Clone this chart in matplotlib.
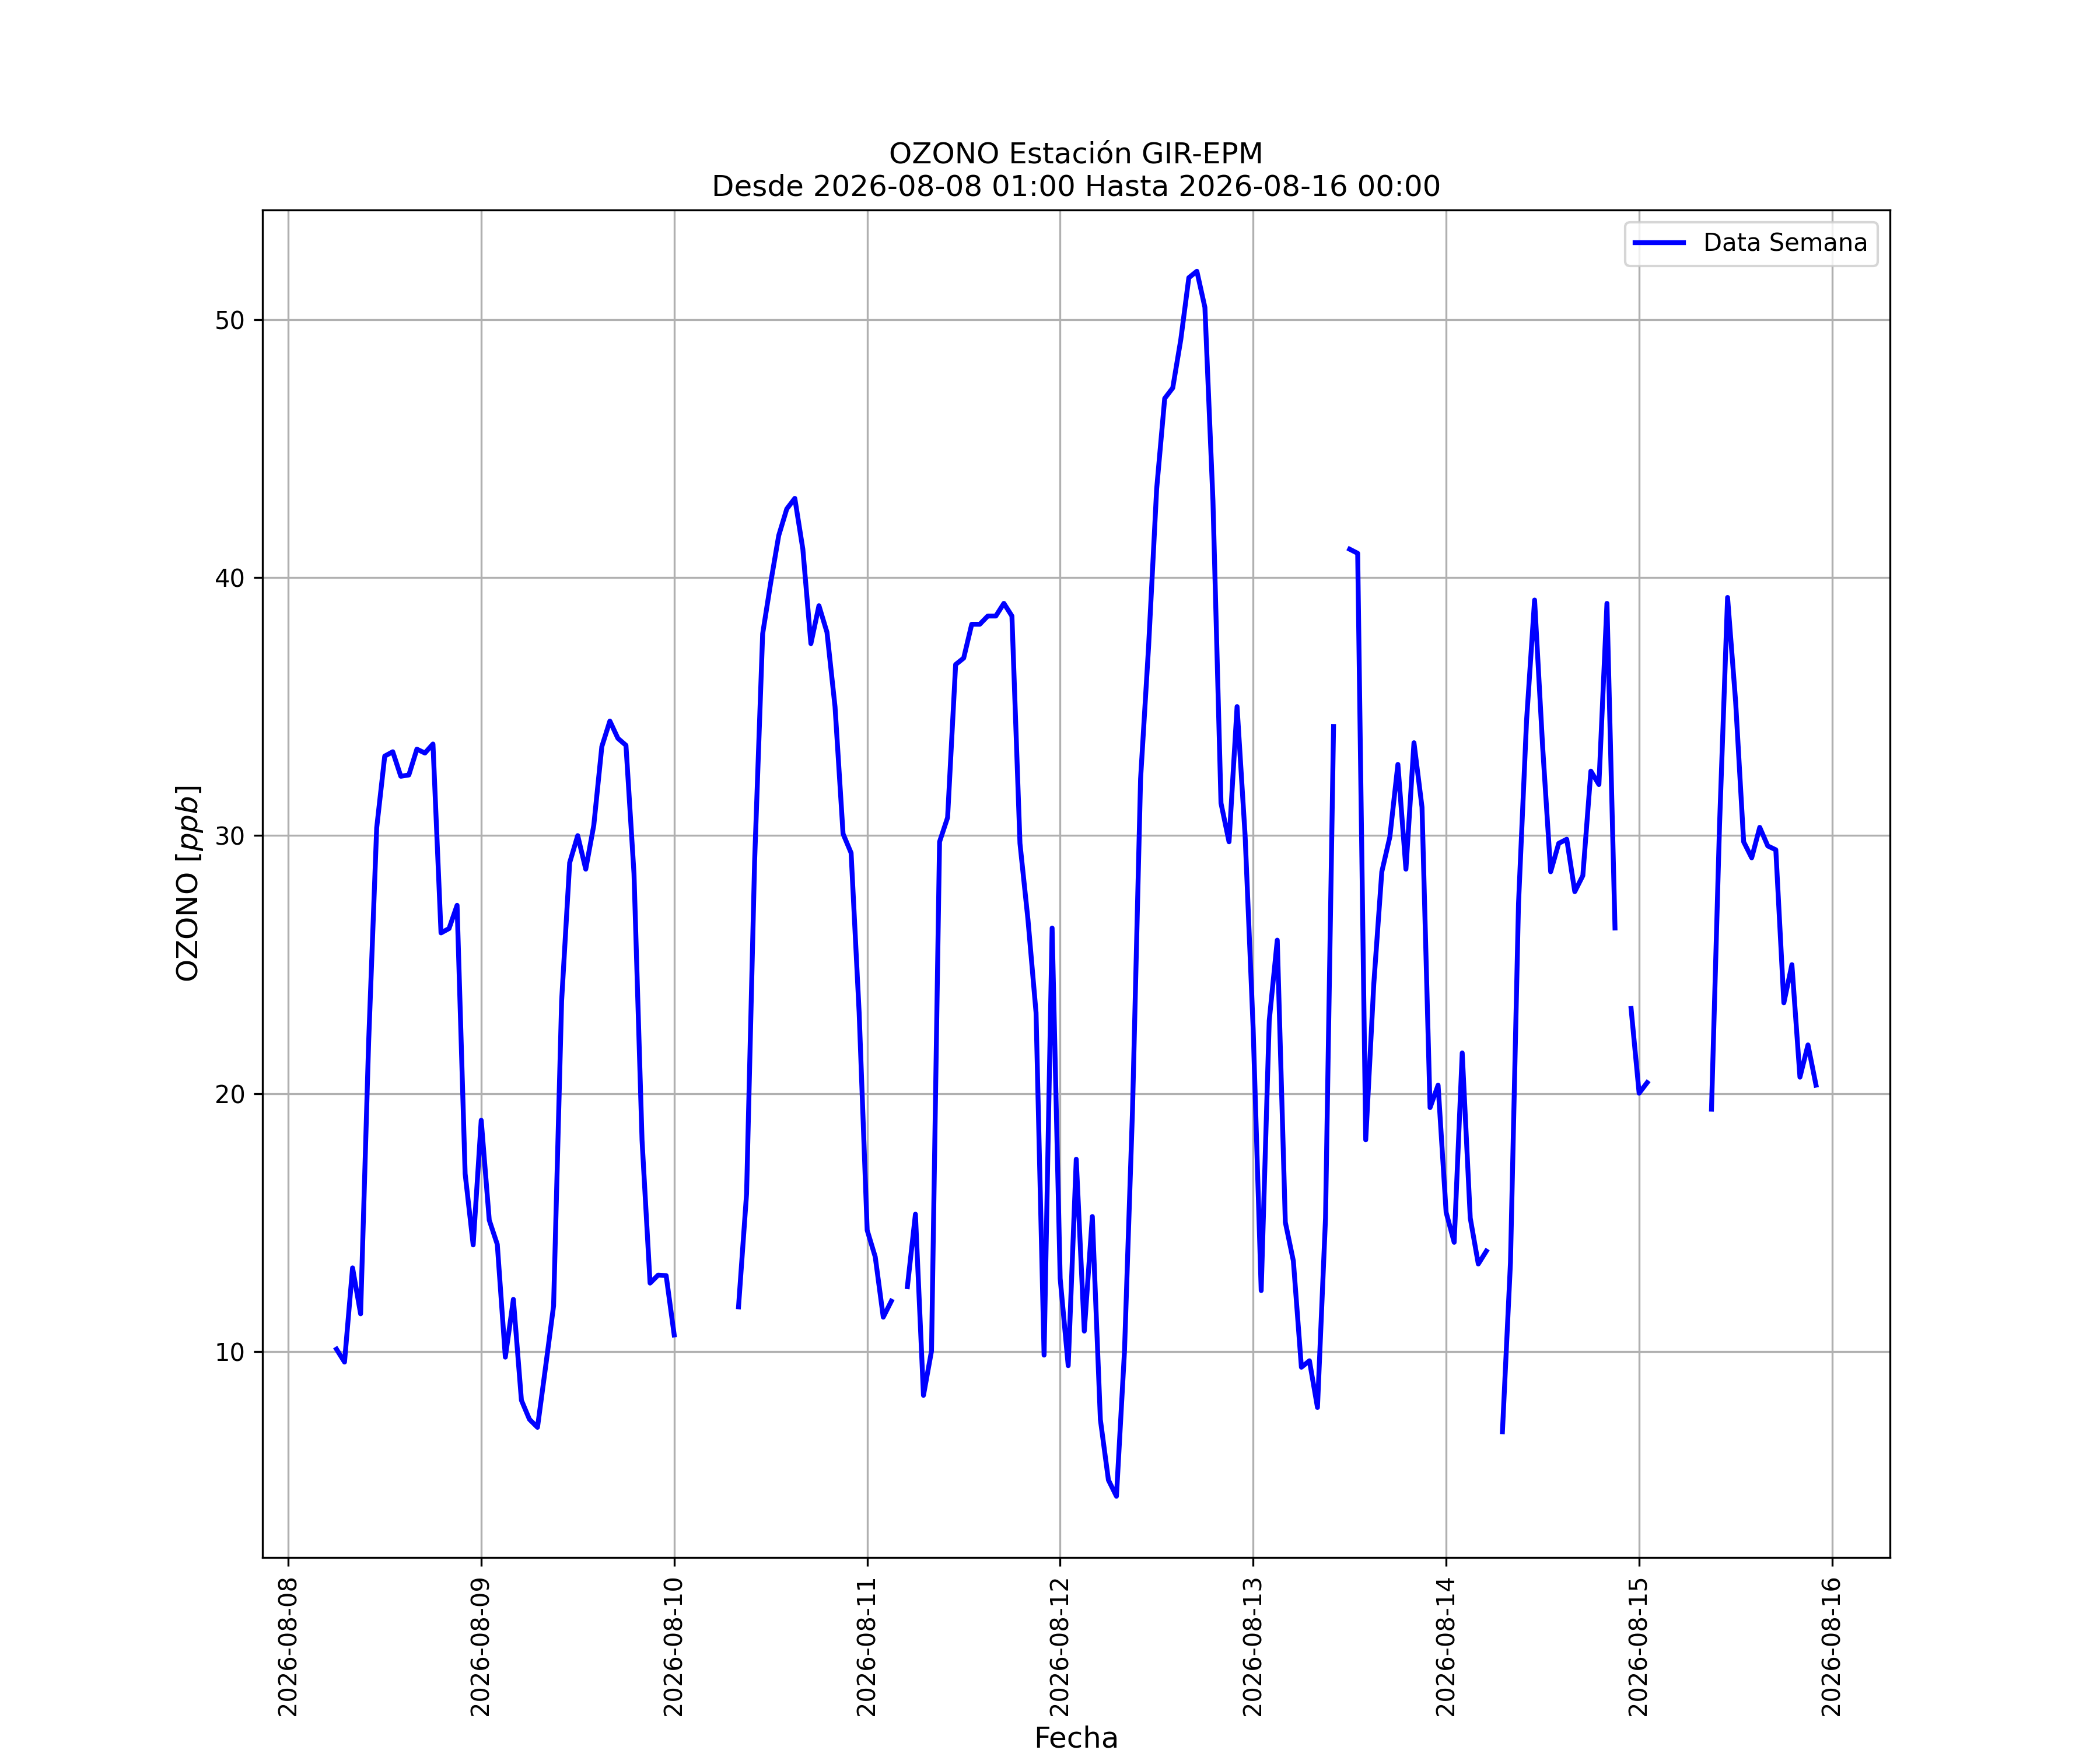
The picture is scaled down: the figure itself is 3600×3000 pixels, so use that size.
import numpy as np
import pandas as pd
import matplotlib
matplotlib.use("Agg")
import matplotlib.pyplot as plt
import matplotlib.dates as mdates

nan = np.nan

# hourly ozone values, 2026-08-08 01:00 .. 2026-08-16 00:00
fechas = pd.date_range("2026-08-08 01:00", "2026-08-16 00:00", freq="h")

dia1 = [nan, nan, nan, nan, nan, 10.1, 9.6, 13.25, 11.47, 22.0, 30.3, 33.08,
        33.25, 32.3, 32.35, 33.35, 33.2, 33.55, 26.23, 26.4, 27.3, 16.9, 14.14, 18.97]
dia2 = [15.1, 14.16, 9.79, 12.03, 8.12, 7.38, 7.07, 9.4, 11.78, 23.6, 28.95, 30.0,
        28.7, 30.4, 33.45, 34.44, 33.77, 33.5, 28.53, 18.2, 12.66, 12.97, 12.95, 10.65]
dia3 = [nan, nan, nan, nan, nan, nan, nan, 11.74, 16.12, 29.0, 37.82, 39.8,
        41.63, 42.66, 43.07, 41.1, 37.44, 38.91, 37.88, 35.0, 30.07, 29.33, 23.14, 14.71]
dia4 = [13.68, 11.34, 11.96, nan, 12.52, 15.33, 8.31, 10.03, 29.76, 30.7, 36.63, 36.88,
        38.19, 38.19, 38.51, 38.51, 39.0, 38.51, 29.7, 26.73, 23.14, 9.87, 26.42, 12.84]
dia5 = [9.46, 17.46, 10.8, 15.24, 7.37, 5.03, 4.4, 10.03, 19.4, 32.2, 37.35, 43.44,
        46.94, 47.35, 49.22, 51.62, 51.87, 50.47, 42.97, 31.26, 29.76, 35.0, 30.0, 22.52]
dia6 = [12.37, 22.83, 25.95, 15.02, 13.52, 9.4, 9.65, 7.84, 15.18, 34.23, nan, 41.1,
        40.94, 18.21, 24.24, 28.6, 29.95, 32.76, 28.7, 33.6, 31.1, 19.46, 20.33, 15.4]
dia7 = [14.24, 21.58, 15.18, 13.4, 13.9, nan, 6.9, 13.46, 27.36, 34.45, 39.13, 33.45,
        28.6, 29.7, 29.86, 27.83, 28.45, 32.5, 31.98, 39.0, 26.42, nan, 23.3, 20.02]
dia8 = [20.43, nan, nan, nan, nan, nan, nan, nan, 19.4, 30.4, 39.23, 35.2,
        29.76, 29.14, 30.32, 29.6, 29.45, 23.52, 25.0, 20.64, 21.89, 20.33, nan, nan]

ozono = dia1 + dia2 + dia3 + dia4 + dia5 + dia6 + dia7 + dia8

fig, ax = plt.subplots(figsize=(12, 10))
ax.plot(fechas, ozono, color="blue", lw=2, label="Data Semana")
ax.set_title("OZONO Estación GIR-EPM\nDesde 2026-08-08 01:00 Hasta 2026-08-16 00:00", fontsize=12)
ax.set_xlabel("Fecha", fontsize=12)
ax.set_ylabel(r"OZONO $[ppb]$", fontsize=12)
ax.xaxis.set_major_locator(mdates.DayLocator())
ax.xaxis.set_major_formatter(mdates.DateFormatter("%Y-%m-%d"))
plt.setp(ax.get_xticklabels(), rotation=90)
ax.grid(True)
ax.legend(loc="upper right")

fig.savefig("out.png", dpi=300)
